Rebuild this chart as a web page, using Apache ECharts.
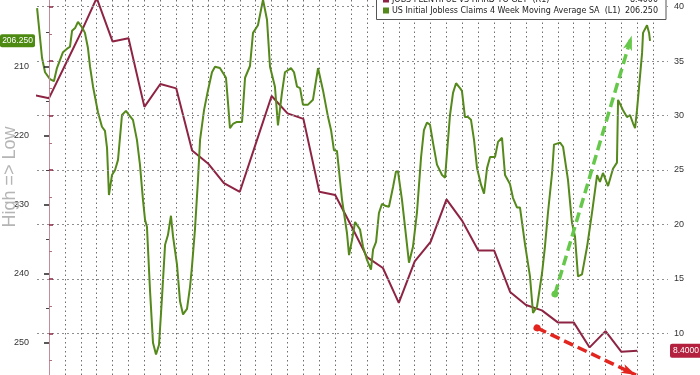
<!DOCTYPE html>
<html><head><meta charset="utf-8">
<script src="https://cdn.jsdelivr.net/npm/echarts@6/dist/echarts.min.js"></script>
<style>html,body{margin:0;padding:0;background:#fff}#c{width:700px;height:375px}</style>
</head><body><div id="c"></div>
<script>
// ---- DATA ----
// Jobs Plentiful vs Hard to Get (R1), monthly; x = month index
const plentifulMonths = [-1,0,1,2,3,4,5,6,7,8,9,10,11,12,13,14,15,16,17,18,19,20,21,22,23,24,25,26,27,28,29,30,31,32,33,34,35,36,37];
const plentifulValues = [31.9,31.6,34.6,37.6,40.8,36.8,37.1,30.8,32.9,32.5,26.8,25.6,23.8,23.0,27.4,31.8,30.2,29.7,23.0,22.7,19.9,17.0,16.0,12.8,16.6,18.4,22.3,20.3,17.6,17.6,13.8,12.6,12.1,11.0,11.0,8.7,10.2,8.3,8.4];
// US Initial Jobless Claims 4wk MA SA (L1, thousands), weekly; x = month index
const claimsX = [-0.75,-0.44,-0.25,0.06,0.31,0.50,0.88,1.19,1.32,1.45,
1.64,1.82,2.08,2.26,2.45,2.58,2.77,3.08,3.33,3.52,
3.65,3.77,3.96,4.15,4.34,4.59,4.84,5.03,5.28,5.53,
5.72,5.91,6.04,6.16,6.35,6.54,6.73,6.92,7.11,7.30,
7.48,7.67,7.80,8.05,8.24,8.43,8.68,8.87,8.99,9.18,
9.37,9.50,9.75,10.0,10.25,10.44,10.75,11.13,11.26,11.38,
11.57,11.82,12.14,12.33,12.64,12.83,13.14,13.46,13.71,13.90,
14.21,14.40,14.65,14.84,15.22,15.41,15.60,15.79,15.97,16.29,
16.60,16.92,17.23,17.55,17.74,17.92,18.11,18.43,18.74,18.87,
19.06,19.25,19.56,19.75,20.0,20.25,20.38,20.57,20.75,20.94,
21.19,21.38,21.64,21.82,21.95,22.20,22.39,22.64,22.89,23.14,
23.40,23.58,23.77,23.96,24.15,24.40,24.72,24.91,25.03,25.22,
25.41,25.60,25.85,25.97,26.16,26.35,26.54,26.73,26.92,27.17,
27.36,27.55,27.74,28.05,28.24,28.49,28.68,28.99,29.18,29.43,
29.62,29.94,30.25,30.44,30.69,31.01,31.19,31.38,31.64,31.76,
32.14,32.33,32.64,32.89,33.08,33.27,33.52,33.84,34.15,34.47,
34.65,34.84,35.16,35.47,35.72,35.79,36.10,36.35,36.54,36.73,
36.86,36.98,37.30,37.36,37.61,37.74,37.80];
const claimsValues = [201.5,208.7,210.8,211.8,212.1,210.2,207.9,207.3,207.1,204.8,
204.4,203.5,204.3,205.1,207.3,210.0,212.9,216.6,218.7,219.3,
221.8,228.6,225.7,225.0,223.5,217.0,216.4,217.0,217.7,220.6,
224.2,229.3,232.2,233.2,242.3,250.0,251.7,250.3,243.3,235.8,
234.4,231.6,234.6,238.7,244.0,245.9,245.1,241.9,239.0,233.6,
226.4,220.6,216.3,213.4,210.8,210.0,210.2,211.6,215.3,218.9,
218.3,218.0,218.0,211.6,209.9,205.1,204.0,200.3,203.2,210.0,
212.9,218.5,213.8,210.8,210.2,210.8,212.9,213.1,215.5,215.5,
214.8,210.2,213.4,217.3,219.2,222.1,222.2,229.3,234.1,237.3,
235.1,232.5,233.6,236.1,238.0,239.4,236.5,235.4,231.2,229.9,
230.2,230.3,227.4,225.2,225.2,229.3,233.2,238.4,236.1,231.2,
223.1,219.2,218.1,218.4,221.0,224.2,225.7,226.1,222.5,217.0,
213.8,212.4,213.1,213.5,217.3,217.3,217.7,220.6,224.7,227.1,
228.4,224.7,223.1,223.1,220.9,220.3,225.7,227.0,229.0,230.4,
230.4,235.8,240.4,245.7,244.8,239.9,236.1,231.2,225.4,221.3,
221.0,221.6,226.4,232.6,234.6,240.4,240.1,236.1,231.2,225.7,
226.7,225.4,227.3,224.8,223.9,214.8,216.3,217.3,217.0,218.2,
218.9,216.3,208.0,205.1,204.0,205.1,206.25];
// Annotation arrows (month, right-axis value)
const greenArrow = [[31.82, 13.61], [36.65, 37.36]];
const redArrow = [[30.69, 10.49], [36.92, 6.17]];
// Legend / labels
const plentifulName = 'JOBS PLENTIFUL VS HARD TO GET  (R1)';
const claimsName = 'US Initial Jobless Claims 4 Week Moving Average SA  (L1)';
const plentifulLast = '8.4000';
const claimsLast = '206.250';
const leftAxisRange = {min: 200, max: 260, step: 10};
const rightAxisRange = {min: 5, max: 45, step: 5};
// month grid: one vertical gridline per month, plot spans from xRange.min to xRange.max
const xRange = {min: -0.755, max: 38.93};
const xGrid = {min: -1, max: 39, step: 1};

// ---- CHART ----
const GREEN = '#55891b', MAROON = '#8e2443';
const chart = echarts.init(document.getElementById('c'), null, {renderer: 'canvas'});
const claimsData = claimsX.map((x, i) => [x, claimsValues[i]]);
const plentifulData = plentifulMonths.map((x, i) => [x, plentifulValues[i]]);
const lblFont = 'Liberation Sans';

// grid 2 (month gridlines) uses a wider extent with an integer min so the step counts from a whole month
const W = 700 - 37 - 32;
const pxPerMonth = W / (xRange.max - xRange.min);
const g2Left = 37 - (xRange.min - xGrid.min) * pxPerMonth;
const g2Right = 32 - (xGrid.max - xRange.max) * pxPerMonth;

chart.setOption({
  animation: false,
  backgroundColor: '#fff',
  grid: [
    {left: 37, right: 32, top: -2.3, bottom: -36.7, outerBoundsMode: 'none', containLabel: false},
    {left: 37, right: 32, top: -47.7, bottom: -12.7, outerBoundsMode: 'none', containLabel: false},
    {left: g2Left, right: g2Right, top: 0, bottom: 0, outerBoundsMode: 'none', containLabel: false}
  ],
  xAxis: [
    {type: 'value', gridIndex: 0, min: xRange.min, max: xRange.max, show: false, splitLine: {show: false}},
    {type: 'value', gridIndex: 1, min: xRange.min, max: xRange.max, show: false, splitLine: {show: false}},
    {type: 'value', gridIndex: 2, min: xGrid.min, max: xGrid.max, interval: xGrid.step,
     axisLine: {show: false}, axisTick: {show: false}, axisLabel: {show: false},
     splitLine: {show: true, lineStyle: {color: '#6e6e6e', type: [1.5, 3], width: 1}}}
  ],
  yAxis: [
    {type: 'value', gridIndex: 0, position: 'left', inverse: true,
     min: leftAxisRange.min, max: leftAxisRange.max, interval: leftAxisRange.step,
     axisLine: {show: true, lineStyle: {color: '#444', width: 1}},
     axisTick: {show: true, inside: false, length: 5, lineStyle: {color: '#222', width: 1.5}},
     minorTick: {show: true, splitNumber: 2, length: 3, lineStyle: {color: '#444'}},
     axisLabel: {show: true, color: '#333', fontSize: 9, fontFamily: lblFont, margin: 8},
     splitLine: {show: false}, z: 5},
    {type: 'value', gridIndex: 1, position: 'right',
     min: rightAxisRange.min, max: rightAxisRange.max, interval: rightAxisRange.step,
     axisLine: {show: true, lineStyle: {color: '#c48c9c', width: 1}},
     axisTick: {show: true, inside: false, length: 4, lineStyle: {color: '#8e2443', width: 1.5}},
     minorTick: {show: true, splitNumber: 2, length: 3, lineStyle: {color: '#b07080'}},
     axisLabel: {show: true, color: '#333', fontSize: 9, fontFamily: lblFont, margin: 6},
     splitLine: {show: true, lineStyle: {color: '#909090', type: [2, 3], width: 1}}, z: 5},
    {type: 'value', gridIndex: 2, min: 0, max: 1, show: false, splitLine: {show: false}}
  ],
  series: [
    {name: plentifulName, type: 'line', xAxisIndex: 1, yAxisIndex: 1, data: plentifulData,
     showSymbol: false, symbol: 'none', clip: true, z: 2,
     lineStyle: {color: MAROON, width: 2}},
    {name: claimsName, type: 'line', xAxisIndex: 0, yAxisIndex: 0, data: claimsData,
     showSymbol: false, symbol: 'none', clip: true, z: 3,
     lineStyle: {color: GREEN, width: 2}},
    {type: 'line', xAxisIndex: 1, yAxisIndex: 1, data: [], z: 10, silent: true,
     markLine: {
       silent: true, symbol: ['circle', 'arrow'], symbolSize: [7, 15],
       label: {show: false},
       data: [
         [{coord: greenArrow[0], lineStyle: {color: '#66c84a', width: 3.5, type: [10, 5]}, itemStyle: {color: '#66c84a'}},
          {coord: greenArrow[1]}],
         [{coord: redArrow[0], lineStyle: {color: '#e2261f', width: 3.5, type: [10, 5]}, itemStyle: {color: '#e2261f'}},
          {coord: redArrow[1]}]
       ]
     }}
  ]
});

// Last-value tags positioned through the axes' scales
const yGreen = chart.convertToPixel({yAxisIndex: 0}, claimsValues[claimsValues.length - 1]);
const yRed = chart.convertToPixel({yAxisIndex: 1}, plentifulValues[plentifulValues.length - 1]);
const legFont = 'DejaVu Sans';
chart.setOption({
  graphic: [
    {type: 'rect', z: 1, shape: {x: 0, y: 0, width: 36.5, height: 375}, style: {fill: '#fff'}},
    {type: 'rect', z: 1, shape: {x: 668.5, y: 0, width: 32, height: 375}, style: {fill: '#fff'}},
    {type: 'text', x: 10, y: 177, rotation: Math.PI / 2, z: 20,
     style: {text: 'High => Low', fill: '#b5b5b5', fontSize: 18, fontFamily: 'Liberation Sans', align: 'center', verticalAlign: 'middle'}},
    {type: 'rect', z: 20, shape: {x: 0, y: yGreen - 6.5, width: 35, height: 13, r: 2}, style: {fill: '#4c8a12'}},
    {type: 'text', z: 21, x: 17.5, y: yGreen, style: {text: claimsLast, fill: '#fff', fontSize: 8.5, fontFamily: lblFont, align: 'center', verticalAlign: 'middle'}},
    {type: 'rect', z: 20, shape: {x: 670, y: yRed - 7, width: 32, height: 14, r: 2}, style: {fill: '#b3213f'}},
    {type: 'text', z: 21, x: 686, y: yRed, style: {text: plentifulLast, fill: '#fff', fontSize: 8.5, fontFamily: lblFont, align: 'center', verticalAlign: 'middle'}},
    // legend box
    {type: 'rect', z: 30, shape: {x: 376.5, y: -8, width: 289.5, height: 27.5}, style: {fill: '#fff', stroke: '#555', lineWidth: 1}},
    {type: 'rect', z: 31, shape: {x: 383, y: -3.5, width: 6, height: 6}, style: {fill: MAROON}},
    {type: 'rect', z: 31, shape: {x: 383, y: 7.5, width: 6, height: 6}, style: {fill: GREEN}},
    {type: 'text', z: 31, x: 392, y: -0.5, style: {text: plentifulName, fill: '#222', fontSize: 8, fontFamily: legFont, align: 'left', verticalAlign: 'middle'}},
    {type: 'text', z: 31, x: 658, y: -0.5, style: {text: plentifulLast, fill: '#222', fontSize: 8, fontFamily: legFont, align: 'right', verticalAlign: 'middle'}},
    {type: 'text', z: 31, x: 392, y: 10.5, style: {text: claimsName, fill: '#222', fontSize: 8, fontFamily: legFont, align: 'left', verticalAlign: 'middle'}},
    {type: 'text', z: 31, x: 658, y: 10.5, style: {text: claimsLast, fill: '#222', fontSize: 8, fontFamily: legFont, align: 'right', verticalAlign: 'middle'}}
  ]
});
</script>
</body></html>
